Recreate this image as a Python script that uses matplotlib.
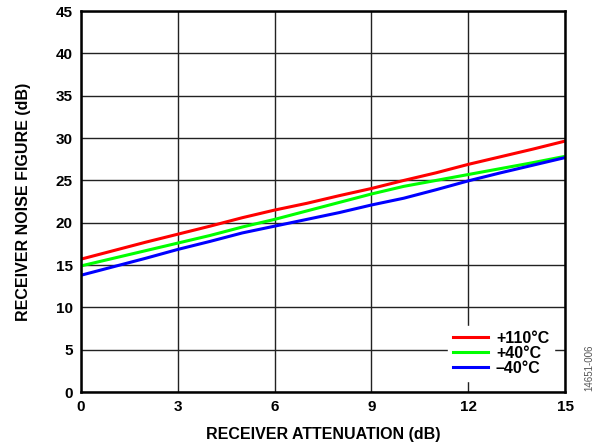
import numpy as np
import matplotlib
matplotlib.use("Agg")
import matplotlib.pyplot as plt

plt.rcParams['font.family'] = ['Liberation Sans', 'DejaVu Sans']
plt.rcParams['font.weight'] = 'bold'

attenuation = list(range(16))
nf_110 = [15.7, 16.7, 17.7, 18.65, 19.6, 20.6, 21.5, 22.3, 23.2, 24.05,
          25.0, 25.9, 26.9, 27.8, 28.7, 29.65]
nf_40 = [14.9, 15.8, 16.7, 17.6, 18.5, 19.5, 20.4, 21.4, 22.4, 23.4,
         24.3, 25.0, 25.7, 26.4, 27.1, 27.85]
nf_m40 = [13.8, 14.8, 15.8, 16.85, 17.8, 18.8, 19.6, 20.4, 21.2, 22.1,
          22.9, 23.9, 24.95, 25.9, 26.8, 27.7]

fig = plt.figure(figsize=(5.98, 4.47), dpi=100)
ax = fig.add_axes([0.1355, 0.123, 0.8095, 0.852])

ax.plot(attenuation, nf_110, color='#ff0000', lw=2.2, label='+110°C')
ax.plot(attenuation, nf_40, color='#00ff00', lw=2.2, label='+40°C')
ax.plot(attenuation, nf_m40, color='#0000ff', lw=2.2, label='\u201340°C')

ax.set_xlim(0, 15)
ax.set_ylim(0, 45)
ax.set_xticks(np.arange(0, 16, 3))
ax.set_yticks(np.arange(0, 46, 5))
ax.grid(True, color='#222222', lw=1.0)
ax.set_axisbelow(True)
ax.tick_params(length=0, labelsize=11, pad=6)
for s in ax.spines.values():
    s.set_linewidth(1.8)
    s.set_color('black')

ax.set_xlabel('RECEIVER ATTENUATION (dB)', fontsize=11.5, fontweight='bold', labelpad=9)
ax.set_ylabel('RECEIVER NOISE FIGURE (dB)', fontsize=11.5, fontweight='bold', labelpad=18)

leg = ax.legend(loc='lower right', frameon=True, fontsize=11.5, handlelength=2.2,
                handletextpad=0.5, labelspacing=0.0, borderpad=0.3,
                borderaxespad=0.7, fancybox=False)
leg.get_frame().set_edgecolor('white')
leg.get_frame().set_facecolor('white')
leg.get_frame().set_alpha(1)

fig.text(0.985, 0.125, '14651-006', rotation=90, fontsize=7, color='#555555',
         fontweight='normal', ha='center', va='bottom')

fig.savefig('out.png', dpi=100)
